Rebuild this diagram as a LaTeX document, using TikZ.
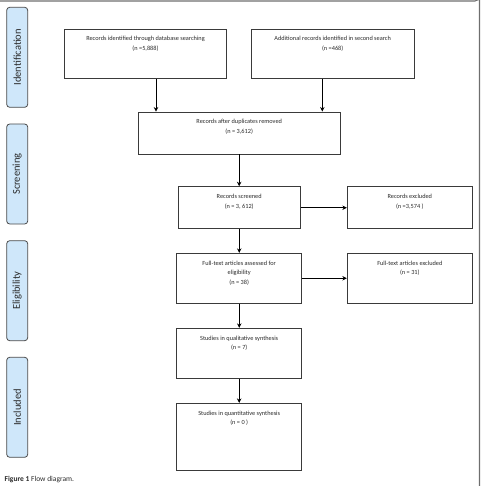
\documentclass[tikz,border=0pt]{standalone}
\usepackage{fontspec}
\setmainfont{Carlito}
\usetikzlibrary{arrows.meta,calc}
\definecolor{sidefill}{HTML}{CFE7FA}
\definecolor{sideline}{HTML}{4A4A4A}
\definecolor{boxline}{HTML}{3A3A3A}
\definecolor{txt}{HTML}{2A2A2A}
\definecolor{frame}{HTML}{6E6E6E}
\newcommand{\boxtxt}[3]{\parbox[c][#2][t]{#1}{\centering\fontsize{6.3}{9.5}\selectfont\vspace*{7.5pt}#3}}
\tikzset{
  flowbox/.style={draw=boxline, line width=0.9pt, inner sep=0pt, text=txt, rectangle},
  sidebox/.style={draw=sideline, fill=sidefill, line width=0.8pt, rounded corners=3pt,
    minimum width=21pt, minimum height=100pt, inner sep=0pt},
  sidetxt/.style={rotate=90, text=txt, font=\fontsize{10.5}{12}\selectfont},
  arr/.style={draw=black, line width=0.9pt, -{Stealth[length=4.5pt,width=4.5pt]}}
}
\begin{document}
\begin{tikzpicture}[x=1pt,y=-1pt]
\useasboundingbox (0,0) rectangle (482,486);
% outer frame
\draw[frame, line width=1.1pt] (0,1) -- (475,1) arc[start angle=90, end angle=0, radius=4.5] -- (479.5,486);
% side labels
\node[sidebox] (s1) at (17.2,57.3) {};
\node[sidetxt] (t1) at (s1.center) {Identification};
\node[sidebox] (s2) at (17.2,174) {};
\node[sidetxt] (t2) at (s2.center) {Screening};
\node[sidebox] (s3) at (17.2,290.7) {};
\node[sidetxt] (t3) at (s3.center) {Eligibility};
\node[sidebox] (s4) at (17.2,407.3) {};
\node[sidetxt] (t4) at (s4.center) {Included};
% boxes
\node[flowbox] (A) at (145.5,53.85) {\boxtxt{162.4pt}{49.7pt}{Records identified through database searching\\(n =5,888)}};
\node[flowbox] (B) at (332.7,53.85) {\boxtxt{162.7pt}{49.7pt}{Additional records identified in second search\\(n =468)}};
\node[flowbox] (C) at (239.2,133) {\boxtxt{201.7pt}{42pt}{Records after duplicates removed\\(n = 3,612)}};
\node[flowbox] (D) at (239.2,207.7) {\boxtxt{121.7pt}{42pt}{Records screened\\(n = 3, 612)}};
\node[flowbox] (E) at (409.8,207.7) {\boxtxt{125pt}{42pt}{Records excluded\\(n =3,574 )}};
\node[flowbox] (F) at (239.2,278.3) {\boxtxt{125pt}{50pt}{Full-text articles assessed for\\eligibility\\(n = 38)}};
\node[flowbox] (G) at (409.8,278.3) {\boxtxt{125pt}{50pt}{Full-text articles excluded\\(n = 31)}};
\node[flowbox] (H) at (239.2,353.3) {\boxtxt{125pt}{50pt}{Studies in qualitative synthesis\\(n = 7)}};
\node[flowbox] (I) at (239.2,436.7) {\boxtxt{125pt}{66.7pt}{Studies in quantitative synthesis\\(n = 0 )}};
% arrows
\draw[arr] ([xshift=10.5pt]A.south) -- ([xshift=10.5pt]A.south |- C.north);
\draw[arr] ([xshift=-10.4pt]B.south) -- ([xshift=-10.4pt]B.south |- C.north);
\draw[arr] (C.south) -- (D.north);
\draw[arr] (D.east) -- (E.west);
\draw[arr] (D.south) -- (F.north);
\draw[arr] (F.east) -- (G.west);
\draw[arr] (F.south) -- (H.north);
\draw[arr] (H.south) -- (I.north);
% caption
\node[anchor=west, inner sep=0pt, text=txt, font=\fontsize{7.5}{9}\selectfont] (cap) at (4.5,480) {\textbf{Figure 1} Flow diagram.};
\end{tikzpicture}
\end{document}
